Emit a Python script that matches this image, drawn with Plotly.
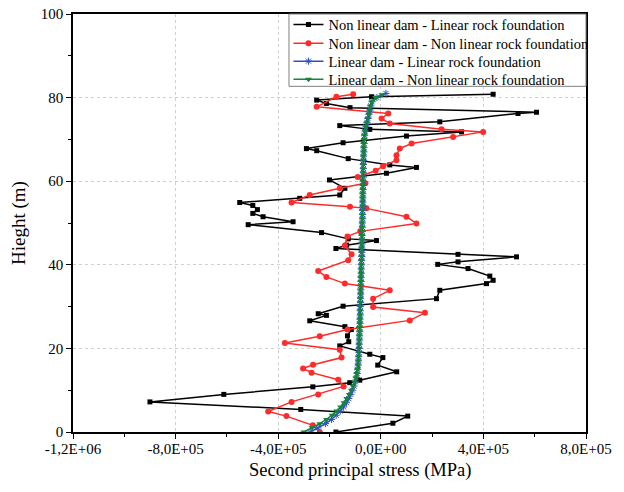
import plotly.graph_objects as go

# ---------------- data ----------------
# Non linear dam - Linear rock foundation
black_h = [0.0, 2.1, 3.8, 5.4, 7.2, 9.0, 10.8, 11.8, 12.4, 14.4, 16.0, 17.8, 18.6, 20.6, 21.6,
           23.0, 24.5, 25.2, 26.6, 27.9, 28.3, 30.1, 31.9, 33.9, 35.5, 36.3, 37.3, 39.1, 40.1,
           40.7, 41.9, 42.5, 43.9, 44.7, 45.8, 46.2, 47.7, 49.6, 50.3, 51.5, 52.3, 53.2, 54.2,
           54.9, 55.9, 56.7, 58.3, 60.3, 61.9, 63.3, 63.9, 65.4, 67.3, 67.8, 69.2, 70.8, 71.8,
           72.4, 73.3, 74.2, 76.2, 76.5, 77.6, 78.6, 79.4, 80.2, 80.8]
black_s = [-1.75e5, 0.47e5, 1.05e5, -3.12e5, -9.0e5, -6.12e5, -2.65e5, -1.21e5, -0.82e5, 0.62e5,
           -0.12e5, 0.08e5, -0.43e5, -1.6e5, -1.25e5, -1.3e5, -1.15e5, -1.4e5, -2.77e5, -2.12e5,
           -2.44e5, -1.47e5, 2.17e5, 2.30e5, 4.12e5, 4.38e5, 4.25e5, 3.40e5, 2.22e5, 3.01e5,
           5.29e5, 3.01e5, -1.75e5, -1.33e5, -0.17e5, -1.27e5, -2.31e5, -5.17e5, -3.42e5,
           -4.59e5, -4.99e5, -4.81e5, -4.99e5, -5.5e5, -3.16e5, -1.6e5, -1.4e5, -2.0e5, 0.22e5,
           1.39e5, 0.35e5, -1.27e5, -2.5e5, -2.9e5, -1.47e5, 1.0e5, 3.15e5, -0.43e5, -1.6e5,
           2.3e5, 5.35e5, 6.07e5, -1.2e5, -2.12e5, -2.5e5, -0.36e5, 4.38e5]

# Non linear dam - Non linear rock foundation
red_h = [0.0, 1.6, 3.8, 4.9, 7.2, 9.0, 10.9, 12.5, 14.2, 15.2, 16.1, 17.8, 19.7, 21.3, 22.9,
         24.5, 26.7, 28.5, 29.9, 31.9, 33.9, 35.5, 37.1, 38.5, 41.1, 42.5, 44.6, 46.8, 48.0,
         49.9, 51.5, 53.5, 53.9, 54.9, 56.7, 58.3, 59.5, 61.0, 62.5, 63.6, 65.0, 66.2, 67.8,
         69.0, 70.6, 71.8, 72.4, 73.8, 75.0, 76.2, 77.8, 80.2, 80.8]
red_s = [-2.38e5, -2.65e5, -3.68e5, -4.39e5, -3.48e5, -2.44e5, -1.45e5, -1.66e5, -2.7e5, -3.03e5,
         -2.64e5, -1.53e5, -1.6e5, -3.74e5, -2.38e5, -1.3e5, 1.13e5, 1.72e5, -0.3e5, -0.3e5,
         0.35e5, -1.4e5, -2.12e5, -2.44e5, -1.27e5, -1.14e5, -1.4e5, -1.3e5, -0.8e5, 1.39e5,
         1.0e5, -0.56e5, -1.2e5, -3.48e5, -2.77e5, -1.6e5, -0.6e5, -0.9e5, -0.2e5, 0.09e5,
         0.61e5, 0.61e5, 0.74e5, 1.2e5, 2.82e5, 3.99e5, 2.37e5, 0.35e5, 0.03e5, 0.29e5,
         -2.5e5, -1.73e5, -1.08e5]

# Linear dam - Linear rock foundation
blue_h = [0, 1, 2, 3, 4, 5, 6, 7, 8, 9, 10, 11, 12, 13, 14, 15, 16, 17, 18, 19, 20, 21, 22, 23,
          24, 25, 26, 27, 28, 29, 30, 31, 32, 33, 34, 35, 36, 37, 38, 39, 40, 41, 42, 43, 44, 45,
          46, 47, 48, 49, 50, 51, 52, 53, 54, 55, 56, 57, 58, 59, 60, 61, 62, 63, 64, 65, 66, 67,
          68, 69, 70, 71, 72, 73, 74, 75, 76, 77, 78, 79, 80, 81]
blue_s = [-2.75e5, -2.45e5, -2.15e5, -1.92e5, -1.74e5, -1.58e5, -1.45e5, -1.34e5, -1.25e5, -1.17e5,
          -1.10e5, -1.04e5, -0.99e5, -0.95e5, -0.92e5, -0.90e5, -0.88e5, -0.87e5, -0.86e5, -0.85e5,
          -0.84e5, -0.84e5, -0.83e5, -0.83e5, -0.82e5, -0.82e5, -0.81e5, -0.81e5, -0.80e5, -0.80e5,
          -0.80e5, -0.79e5, -0.79e5, -0.78e5, -0.78e5, -0.78e5, -0.77e5, -0.77e5, -0.76e5, -0.76e5,
          -0.75e5, -0.75e5, -0.74e5, -0.74e5, -0.74e5, -0.73e5, -0.73e5, -0.73e5, -0.72e5, -0.72e5,
          -0.72e5, -0.71e5, -0.71e5, -0.71e5, -0.70e5, -0.70e5, -0.70e5, -0.70e5, -0.69e5, -0.69e5,
          -0.69e5, -0.68e5, -0.68e5, -0.68e5, -0.68e5, -0.67e5, -0.67e5, -0.66e5, -0.66e5, -0.65e5,
          -0.64e5, -0.63e5, -0.61e5, -0.58e5, -0.54e5, -0.50e5, -0.46e5, -0.42e5, -0.39e5, -0.34e5,
          -0.15e5, 0.20e5]

# Linear dam - Non linear rock foundation
green_h = [0, 1, 2, 3, 4, 5, 6, 7, 8, 9, 10, 11, 12, 13, 14, 15, 16, 17, 18, 19, 20, 21, 22, 23,
           24, 25, 26, 27, 28, 29, 30, 31, 32, 33, 34, 35, 36, 37, 38, 39, 40, 41, 42, 43, 44, 45,
           46, 47, 48, 49, 50, 51, 52, 53, 54, 55, 56, 57, 58, 59, 60, 61, 62, 63, 64, 65, 66, 67,
           68, 69, 70, 71, 72, 73, 74, 75, 76, 77, 78, 79, 80, 80.7]
green_s = [-3.00e5, -2.68e5, -2.38e5, -2.12e5, -1.90e5, -1.72e5, -1.57e5, -1.44e5, -1.33e5, -1.23e5,
           -1.15e5, -1.08e5, -1.02e5, -0.97e5, -0.94e5, -0.91e5, -0.89e5, -0.88e5, -0.87e5, -0.86e5,
           -0.85e5, -0.85e5, -0.84e5, -0.84e5, -0.83e5, -0.83e5, -0.82e5, -0.82e5, -0.81e5, -0.81e5,
           -0.81e5, -0.80e5, -0.80e5, -0.79e5, -0.79e5, -0.79e5, -0.78e5, -0.78e5, -0.77e5, -0.77e5,
           -0.76e5, -0.76e5, -0.75e5, -0.75e5, -0.75e5, -0.74e5, -0.74e5, -0.74e5, -0.73e5, -0.73e5,
           -0.73e5, -0.72e5, -0.72e5, -0.72e5, -0.71e5, -0.71e5, -0.71e5, -0.71e5, -0.70e5, -0.70e5,
           -0.70e5, -0.69e5, -0.69e5, -0.69e5, -0.69e5, -0.68e5, -0.68e5, -0.67e5, -0.67e5, -0.66e5,
           -0.65e5, -0.64e5, -0.62e5, -0.59e5, -0.55e5, -0.51e5, -0.47e5, -0.43e5, -0.40e5, -0.35e5,
           -0.20e5, 0.05e5]

names = ["Non linear dam - Linear rock foundation",
         "Non linear dam - Non linear rock foundation",
         "Linear dam - Linear rock foundation",
         "Linear dam - Non linear rock foundation"]

x_tickvals = [-1.2e6, -8e5, -4e5, 0, 4e5, 8e5]
x_ticktext = ["-1,2E+06", "-8,0E+05", "-4,0E+05", "0,0E+00", "4,0E+05", "8,0E+05"]
y_tickvals = [0, 20, 40, 60, 80, 100]
y_ticktext = ["0", "20", "40", "60", "80", "100"]

# ---------------- figure ----------------
FONT = "Liberation Serif"
LEG_KEYS = ["legend", "legend2", "legend3", "legend4"]
LEG_Y = [0.975, 0.930, 0.887, 0.844]   # legend row centres (paper fraction)

fig = go.Figure()
fig.add_trace(go.Scatter(x=black_s, y=black_h, name=names[0], mode="lines+markers",
                         legend=LEG_KEYS[0],
                         line=dict(color="black", width=1.5),
                         marker=dict(symbol="square", size=5, color="black")))
fig.add_trace(go.Scatter(x=red_s, y=red_h, name=names[1], mode="lines+markers",
                         legend=LEG_KEYS[1],
                         line=dict(color="#ff2a2a", width=1.5),
                         marker=dict(symbol="circle", size=6, color="#ff2a2a")))
fig.add_trace(go.Scatter(x=blue_s, y=blue_h, name=names[2], mode="lines+markers",
                         legend=LEG_KEYS[2],
                         line=dict(color="#2f4fc4", width=1.5),
                         marker=dict(symbol="asterisk-open", size=6,
                                     line=dict(color="#4a6ae0", width=1))))
fig.add_trace(go.Scatter(x=green_s, y=green_h, name=names[3], mode="lines+markers",
                         legend=LEG_KEYS[3],
                         line=dict(color="#15843a", width=1.5),
                         marker=dict(symbol="triangle-down", size=6, color="#15843a")))

axis_common = dict(showline=True, linecolor="black", linewidth=1.5, mirror=True,
                   ticks="outside", ticklen=5, tickwidth=1.2, tickcolor="black",
                   showgrid=True, gridcolor="#d0d0d0", griddash="dot", gridwidth=1,
                   zeroline=False, automargin=False,
                   tickfont=dict(family=FONT, size=15, color="black"))

fig.update_xaxes(range=[-1.2e6, 8e5], tickvals=x_tickvals, ticktext=x_ticktext,
                 minor=dict(dtick=2e5, ticks="outside", ticklen=3, tickcolor="black", showgrid=False),
                 ticklabelstandoff=-3,
                 **axis_common)
fig.update_yaxes(range=[0, 100], tickvals=y_tickvals, ticktext=y_ticktext,
                 minor=dict(dtick=10, ticks="outside", ticklen=3, tickcolor="black", showgrid=False),
                 title=dict(text="Hieght (m)", font=dict(family=FONT, size=19, color="black"),
                            standoff=10),
                 **axis_common)

legend_style = dict(x=0.42, xanchor="left", yanchor="middle", bgcolor="rgba(0,0,0,0)",
                    borderwidth=0, font=dict(family=FONT, size=14.5, color="black"),
                    itemwidth=30)
legends = {key: dict(y=yv, **legend_style) for key, yv in zip(LEG_KEYS, LEG_Y)}

fig.update_layout(
    width=624, height=492,
    margin=dict(l=73, r=38, t=14, b=60, pad=0, autoexpand=False),
    paper_bgcolor="white", plot_bgcolor="white",
    font=dict(family=FONT, color="black"),
    showlegend=True,
    shapes=[dict(type="rect", xref="paper", yref="paper", x0=0.421, x1=1.0, y0=0.827, y1=1.0,
                 fillcolor="white", line=dict(color="#808080", width=1), layer="above")],
    annotations=[dict(text="Second principal stress (MPa)", xref="paper", yref="paper",
                      x=0.559, y=-0.092, xanchor="center", yanchor="middle", showarrow=False,
                      font=dict(family=FONT, size=18.5, color="black"))],
    **legends,
)

fig.write_html("out.html", config={"displayModeBar": False},
               post_script="document.body.style.margin='0';document.body.style.overflow='hidden';")
